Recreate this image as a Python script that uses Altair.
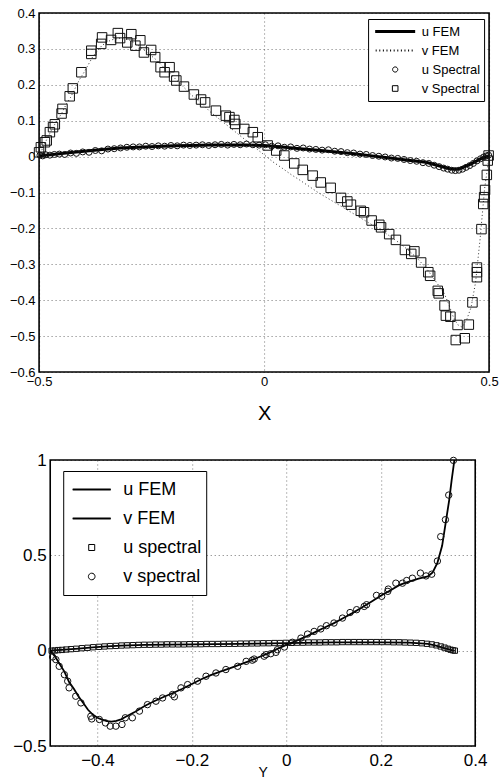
import altair as alt
import pandas as pd

# ---------------- top panel (versus X) ----------------
top_u_fem = [(-0.5, 0.002), (-0.47, 0.006), (-0.44, 0.010), (-0.40, 0.015), (-0.36, 0.020),
             (-0.32, 0.024), (-0.28, 0.026), (-0.24, 0.028), (-0.20, 0.030), (-0.16, 0.031),
             (-0.12, 0.032), (-0.08, 0.032), (-0.04, 0.032), (0.0, 0.031), (0.04, 0.027),
             (0.08, 0.022), (0.12, 0.018), (0.16, 0.013), (0.20, 0.008), (0.24, 0.002),
             (0.28, -0.004), (0.32, -0.010), (0.36, -0.016), (0.39, -0.026), (0.41, -0.033),
             (0.42, -0.035), (0.43, -0.035), (0.44, -0.031), (0.46, -0.020), (0.48, -0.007),
             (0.5, 0.003)]

top_v_fem = [(-0.5, 0.0), (-0.49, 0.03), (-0.48, 0.055), (-0.47, 0.08), (-0.46, 0.10),
             (-0.45, 0.12), (-0.44, 0.145), (-0.43, 0.165), (-0.42, 0.19), (-0.41, 0.215),
             (-0.40, 0.235), (-0.38, 0.28), (-0.36, 0.31), (-0.34, 0.325), (-0.32, 0.33),
             (-0.30, 0.325), (-0.28, 0.31), (-0.26, 0.29), (-0.24, 0.27), (-0.22, 0.245),
             (-0.20, 0.22), (-0.18, 0.195), (-0.16, 0.17), (-0.14, 0.15), (-0.12, 0.125),
             (-0.10, 0.105), (-0.08, 0.085), (-0.06, 0.065), (-0.04, 0.045), (-0.02, 0.025),
             (0.0, 0.005), (0.02, -0.015), (0.04, -0.032), (0.06, -0.05), (0.08, -0.066),
             (0.10, -0.083), (0.12, -0.10), (0.14, -0.115), (0.16, -0.13), (0.18, -0.145),
             (0.20, -0.16), (0.22, -0.175), (0.24, -0.19), (0.26, -0.205), (0.28, -0.222),
             (0.30, -0.24), (0.32, -0.26), (0.34, -0.283), (0.36, -0.31), (0.38, -0.345),
             (0.40, -0.38), (0.41, -0.41), (0.42, -0.445), (0.43, -0.468), (0.44, -0.475),
             (0.45, -0.455), (0.46, -0.42), (0.47, -0.35), (0.48, -0.23), (0.49, -0.09),
             (0.5, 0.0)]

top_u_spectral = [(-0.498, 0.004), (-0.492, 0.002), (-0.485, 0.005), (-0.476, 0.004), (-0.466, 0.006),
                  (-0.455, 0.007), (-0.443, 0.006), (-0.430, 0.010), (-0.417, 0.009), (-0.403, 0.013),
                  (-0.389, 0.012), (-0.375, 0.017), (-0.361, 0.016), (-0.347, 0.021), (-0.333, 0.022),
                  (-0.319, 0.024), (-0.305, 0.026), (-0.291, 0.027), (-0.277, 0.027), (-0.263, 0.029),
                  (-0.249, 0.028), (-0.235, 0.030), (-0.221, 0.029), (-0.207, 0.031), (-0.193, 0.030),
                  (-0.179, 0.032), (-0.165, 0.031), (-0.151, 0.032), (-0.137, 0.033), (-0.123, 0.031),
                  (-0.109, 0.033), (-0.095, 0.034), (-0.081, 0.032), (-0.067, 0.034), (-0.053, 0.033),
                  (-0.039, 0.035), (-0.025, 0.033), (-0.011, 0.032), (0.003, 0.033), (0.017, 0.029),
                  (0.031, 0.030), (0.045, 0.026), (0.059, 0.027), (0.073, 0.023), (0.087, 0.024),
                  (0.101, 0.021), (0.115, 0.020), (0.129, 0.018), (0.143, 0.019), (0.157, 0.015),
                  (0.171, 0.014), (0.185, 0.011), (0.199, 0.010), (0.213, 0.007), (0.227, 0.006),
                  (0.241, 0.003), (0.255, 0.001), (0.269, -0.001), (0.283, -0.004), (0.297, -0.005),
                  (0.311, -0.008), (0.325, -0.011), (0.339, -0.013), (0.353, -0.017), (0.366, -0.019),
                  (0.378, -0.024), (0.389, -0.028), (0.399, -0.032), (0.408, -0.035), (0.417, -0.038),
                  (0.425, -0.039), (0.433, -0.038), (0.441, -0.035), (0.449, -0.030), (0.457, -0.025),
                  (0.465, -0.019), (0.473, -0.012), (0.481, -0.006), (0.488, -0.001), (0.494, 0.002),
                  (0.499, 0.004)]

top_v_spectral = [(-0.500, 0.012), (-0.496, 0.026), (-0.487, 0.040), (-0.483, 0.045), (-0.476, 0.068),
                  (-0.469, 0.082), (-0.465, 0.090), (-0.450, 0.120), (-0.448, 0.133), (-0.432, 0.168),
                  (-0.425, 0.190), (-0.406, 0.235), (-0.384, 0.286), (-0.384, 0.295), (-0.362, 0.314),
                  (-0.360, 0.332), (-0.340, 0.325), (-0.325, 0.344), (-0.320, 0.330), (-0.304, 0.318),
                  (-0.295, 0.341), (-0.286, 0.309), (-0.275, 0.324), (-0.267, 0.290), (-0.251, 0.297),
                  (-0.242, 0.277), (-0.230, 0.249), (-0.221, 0.235), (-0.210, 0.249), (-0.200, 0.223),
                  (-0.195, 0.212), (-0.178, 0.195), (-0.156, 0.173), (-0.140, 0.159), (-0.131, 0.151),
                  (-0.107, 0.128), (-0.085, 0.114), (-0.077, 0.110), (-0.066, 0.102), (-0.064, 0.091),
                  (-0.044, 0.077), (-0.025, 0.068), (-0.014, 0.054), (0.008, 0.031), (0.027, 0.017),
                  (0.045, 0.003), (0.067, -0.019), (0.086, -0.037), (0.108, -0.053), (0.126, -0.072),
                  (0.148, -0.087), (0.171, -0.115), (0.185, -0.125), (0.193, -0.134), (0.215, -0.151),
                  (0.222, -0.155), (0.239, -0.178), (0.256, -0.190), (0.260, -0.197), (0.278, -0.216),
                  (0.293, -0.232), (0.313, -0.260), (0.334, -0.264), (0.327, -0.271), (0.349, -0.295),
                  (0.365, -0.322), (0.369, -0.332), (0.386, -0.374), (0.388, -0.381), (0.401, -0.415),
                  (0.404, -0.443), (0.414, -0.446), (0.430, -0.469), (0.426, -0.511), (0.446, -0.506),
                  (0.455, -0.468), (0.463, -0.406), (0.473, -0.309), (0.473, -0.322), (0.473, -0.336),
                  (0.483, -0.202), (0.487, -0.132), (0.489, -0.113), (0.491, -0.093), (0.495, -0.051),
                  (0.497, -0.011), (0.499, 0.003)]

top_series = ["u FEM", "v FEM", "u Spectral", "v Spectral"]
top_x_ticks = [-0.5, 0.0, 0.5]
top_y_ticks = [-0.6, -0.5, -0.4, -0.3, -0.2, -0.1, 0.0, 0.1, 0.2, 0.3, 0.4]

# ---------------- bottom panel (versus Y) ----------------
bot_u_fem = [(-0.5, 0.0), (-0.47, 0.005), (-0.44, 0.011), (-0.41, 0.017), (-0.38, 0.022),
             (-0.35, 0.026), (-0.30, 0.030), (-0.20, 0.033), (-0.10, 0.036), (0.0, 0.040),
             (0.10, 0.043), (0.20, 0.044), (0.26, 0.042), (0.30, 0.036), (0.317, 0.026),
             (0.335, 0.013), (0.352, 0.002), (0.357, 0.0)]

bot_v_fem = [(-0.5, 0.0), (-0.49, -0.03), (-0.48, -0.07), (-0.47, -0.11), (-0.46, -0.165),
             (-0.45, -0.20), (-0.44, -0.24), (-0.43, -0.275), (-0.42, -0.31), (-0.41, -0.335),
             (-0.40, -0.352), (-0.39, -0.362), (-0.38, -0.369), (-0.37, -0.372), (-0.36, -0.368),
             (-0.35, -0.36), (-0.34, -0.347), (-0.32, -0.32), (-0.30, -0.29), (-0.28, -0.265),
             (-0.26, -0.243), (-0.24, -0.222), (-0.22, -0.20), (-0.20, -0.175), (-0.18, -0.15),
             (-0.16, -0.128), (-0.14, -0.11), (-0.12, -0.093), (-0.10, -0.075), (-0.08, -0.056),
             (-0.06, -0.036), (-0.04, -0.016), (-0.02, 0.008), (0.0, 0.03), (0.02, 0.05),
             (0.04, 0.072), (0.06, 0.096), (0.08, 0.12), (0.10, 0.143), (0.12, 0.17),
             (0.14, 0.197), (0.16, 0.226), (0.18, 0.257), (0.20, 0.288), (0.22, 0.316),
             (0.24, 0.345), (0.26, 0.362), (0.28, 0.378), (0.30, 0.39), (0.31, 0.41),
             (0.32, 0.46), (0.33, 0.55), (0.34, 0.71), (0.345, 0.79), (0.35, 0.89), (0.356, 1.0)]

bot_u_spectral = [(-0.497, 0.000), (-0.490, 0.001), (-0.483, 0.003), (-0.475, 0.004), (-0.466, 0.006),
                  (-0.456, 0.008), (-0.445, 0.010), (-0.433, 0.013), (-0.421, 0.015), (-0.409, 0.018),
                  (-0.397, 0.020), (-0.385, 0.022), (-0.373, 0.024), (-0.361, 0.025), (-0.349, 0.027),
                  (-0.337, 0.028), (-0.325, 0.029), (-0.313, 0.030), (-0.301, 0.031), (-0.289, 0.031),
                  (-0.277, 0.032), (-0.265, 0.032), (-0.253, 0.033), (-0.241, 0.033), (-0.229, 0.033),
                  (-0.217, 0.033), (-0.205, 0.034), (-0.193, 0.034), (-0.181, 0.034), (-0.169, 0.035),
                  (-0.157, 0.035), (-0.145, 0.035), (-0.133, 0.036), (-0.121, 0.036), (-0.109, 0.036),
                  (-0.097, 0.037), (-0.085, 0.037), (-0.073, 0.038), (-0.061, 0.038), (-0.049, 0.039),
                  (-0.037, 0.039), (-0.025, 0.040), (-0.013, 0.040), (-0.001, 0.041), (0.011, 0.041),
                  (0.023, 0.042), (0.035, 0.042), (0.047, 0.043), (0.059, 0.043), (0.071, 0.043),
                  (0.083, 0.044), (0.095, 0.044), (0.107, 0.044), (0.119, 0.045), (0.131, 0.045),
                  (0.143, 0.045), (0.155, 0.045), (0.167, 0.045), (0.179, 0.045), (0.191, 0.045),
                  (0.203, 0.045), (0.215, 0.045), (0.227, 0.044), (0.239, 0.044), (0.251, 0.043),
                  (0.263, 0.042), (0.275, 0.041), (0.287, 0.039), (0.298, 0.036), (0.308, 0.033),
                  (0.318, 0.028), (0.327, 0.022), (0.335, 0.016), (0.342, 0.010), (0.348, 0.005),
                  (0.353, 0.002), (0.357, 0.000)]

bot_v_spectral = [(-0.495, -0.033), (-0.488, -0.047), (-0.481, -0.082), (-0.470, -0.126), (-0.463, -0.160),
                  (-0.460, -0.195), (-0.446, -0.239), (-0.435, -0.274), (-0.414, -0.344), (-0.412, -0.358),
                  (-0.396, -0.361), (-0.383, -0.379), (-0.373, -0.396), (-0.361, -0.396), (-0.348, -0.387),
                  (-0.341, -0.352), (-0.326, -0.352), (-0.311, -0.317), (-0.294, -0.283), (-0.276, -0.265),
                  (-0.262, -0.248), (-0.241, -0.230), (-0.237, -0.242), (-0.223, -0.195), (-0.209, -0.178),
                  (-0.188, -0.160), (-0.170, -0.134), (-0.149, -0.117), (-0.128, -0.099), (-0.103, -0.082),
                  (-0.085, -0.056), (-0.072, -0.050), (-0.068, -0.044), (-0.047, -0.029), (-0.043, -0.021),
                  (-0.033, -0.016), (-0.022, -0.009), (-0.019, 0.005), (-0.004, 0.019), (0.013, 0.044),
                  (0.031, 0.066), (0.045, 0.087), (0.059, 0.101), (0.073, 0.114), (0.085, 0.131),
                  (0.101, 0.145), (0.119, 0.171), (0.135, 0.200), (0.149, 0.215), (0.165, 0.232),
                  (0.170, 0.241), (0.191, 0.290), (0.202, 0.285), (0.215, 0.311), (0.216, 0.323),
                  (0.232, 0.354), (0.246, 0.354), (0.255, 0.368), (0.267, 0.380), (0.284, 0.407),
                  (0.296, 0.392), (0.308, 0.401), (0.320, 0.470), (0.327, 0.598), (0.337, 0.687),
                  (0.344, 0.816), (0.354, 0.998)]

bot_series = ["u FEM", "v FEM", "u spectral", "v spectral"]
bot_x_ticks = [-0.4, -0.2, 0.0, 0.2, 0.4]
bot_y_ticks = [-0.5, 0.0, 0.5, 1.0]

# ---------------- helpers / styles ----------------
FONT = "Liberation Sans"


def frame(pairs, series):
    return pd.DataFrame({"x": [p[0] for p in pairs], "y": [p[1] for p in pairs], "s": series})


EMPTY = pd.DataFrame({"x": pd.Series([], dtype=float), "y": pd.Series([], dtype=float),
                      "s": pd.Series([], dtype=str)})

# legend symbol paths (unit coordinates, scaled by the legend symbol size)
THICK_T = "M-1,-0.05H1M-1,0H1M-1,0.05H1"
DOT_T = "".join(f"M{v:.2f},-0.05V0.05" for v in [-0.95, -0.77, -0.59, -0.41, -0.23, -0.05, 0.13, 0.31, 0.49, 0.67, 0.85])
CIRC_T = "M0.13,0A0.13,0.13,0,1,1,-0.13,0A0.13,0.13,0,1,1,0.13,0Z"
SQ_T = "M-0.14,-0.14H0.14V0.14H-0.14Z"

LINE_B = "M-1,-0.026H1M-1,0H1M-1,0.026H1"
CIRC_B = "M0.175,0A0.175,0.175,0,1,1,-0.175,0A0.175,0.175,0,1,1,0.175,0Z"
SQ_B = "M-0.158,-0.158H0.158V0.158H-0.158Z"

grid_style = dict(grid=True, gridColor="#000", gridOpacity=0.55, gridDash=[1, 3], gridWidth=1,
                  domain=False, ticks=False, labelFont=FONT, labelColor="black",
                  labelFlush=False, labelOverlap=False, tickCount=30)

# ---------------- top chart ----------------
xs_t = alt.Scale(domain=[-0.5, 0.5], nice=False, zero=False)
ys_t = alt.Scale(domain=[-0.6, 0.4], nice=False, zero=False)
x_axis_t = alt.Axis(values=top_x_ticks, format=".1~f", title="X", titleFont=FONT, titleFontSize=20,
                    titleFontWeight="normal", titleColor="black", titlePadding=15,
                    labelFontSize=13, labelPadding=3, **grid_style)
y_axis_t = alt.Axis(values=top_y_ticks, format=".1~f", title=None, labelFontSize=13, labelPadding=4,
                    **grid_style)

legend_t = alt.Legend(title=None, orient="none", legendX=329, legendY=6,
                      strokeColor="black", fillColor="white", padding=3,
                      symbolSize=1600, symbolStrokeWidth=1, symbolStrokeColor="black",
                      symbolFillColor="transparent", symbolOffset=3.6, labelOffset=6,
                      labelFont=FONT, labelFontSize=13, labelColor="black",
                      clipHeight=19, rowPadding=0)

t_line_u = alt.Chart(frame(top_u_fem, "u FEM")).mark_line(color="black", strokeWidth=3).encode(
    x=alt.X("x:Q", scale=xs_t, axis=x_axis_t), y=alt.Y("y:Q", scale=ys_t, axis=y_axis_t))
t_line_v = alt.Chart(frame(top_v_fem, "v FEM")).mark_line(color="#333", strokeWidth=1, strokeDash=[1, 2.5]).encode(
    x="x:Q", y="y:Q")
t_pts_v = alt.Chart(frame(top_v_spectral, "v Spectral")).mark_point(
    shape="square", filled=False, color="#111", strokeWidth=1, size=90, opacity=1).encode(x="x:Q", y="y:Q")
t_pts_u = alt.Chart(frame(top_u_spectral, "u Spectral")).mark_point(
    shape="circle", filled=False, color="#111", strokeWidth=1, size=36, opacity=1).encode(x="x:Q", y="y:Q")
t_key = alt.Chart(EMPTY).mark_point(filled=False, color="black", opacity=1).encode(
    x="x:Q", y="y:Q",
    shape=alt.Shape("s:N", scale=alt.Scale(domain=top_series, range=[THICK_T, DOT_T, CIRC_T, SQ_T]),
                    legend=legend_t))

top = alt.layer(t_line_u, t_line_v, t_pts_v, t_pts_u, t_key).properties(width=450, height=359)

# ---------------- bottom chart ----------------
xs_b = alt.Scale(domain=[-0.5, 0.4001], nice=False, zero=False)
ys_b = alt.Scale(domain=[-0.5, 1.0], nice=False, zero=False)
x_axis_b = alt.Axis(values=bot_x_ticks, format=".1~f", title="Y", titleFont=FONT, titleFontSize=14,
                    titleFontWeight="normal", titleColor="black", titlePadding=-3,
                    labelFontSize=17, labelPadding=6, **grid_style)
y_axis_b = alt.Axis(values=bot_y_ticks, format=".1~f", title=None, labelFontSize=17, labelPadding=4,
                    **grid_style)

legend_b = alt.Legend(title=None, orient="none", legendX=13, legendY=11,
                      strokeColor="black", fillColor="white", padding=4,
                      symbolSize=1444, symbolStrokeWidth=1, symbolStrokeColor="black",
                      symbolFillColor="transparent", symbolOffset=5, labelOffset=12,
                      labelFont=FONT, labelFontSize=18, labelColor="black",
                      labelExpr="datum.label + '\u00a0\u00a0'",
                      clipHeight=29, rowPadding=0)

b_line_u = alt.Chart(frame(bot_u_fem, "u FEM")).mark_line(color="black", strokeWidth=1.8).encode(
    x=alt.X("x:Q", scale=xs_b, axis=x_axis_b), y=alt.Y("y:Q", scale=ys_b, axis=y_axis_b))
b_line_v = alt.Chart(frame(bot_v_fem, "v FEM")).mark_line(color="black", strokeWidth=1.8).encode(
    x="x:Q", y="y:Q")
b_pts_u = alt.Chart(frame(bot_u_spectral, "u spectral")).mark_point(
    shape="square", filled=False, color="#111", strokeWidth=1, size=28, opacity=1).encode(x="x:Q", y="y:Q")
b_pts_v = alt.Chart(frame(bot_v_spectral, "v spectral")).mark_point(
    shape="circle", filled=False, color="#111", strokeWidth=1, size=41, opacity=1).encode(x="x:Q", y="y:Q")
b_key = alt.Chart(EMPTY).mark_point(filled=False, color="black", opacity=1).encode(
    x="x:Q", y="y:Q",
    shape=alt.Shape("s:N", scale=alt.Scale(domain=bot_series, range=[LINE_B, LINE_B, SQ_B, CIRC_B]),
                    legend=legend_b))

bottom = alt.layer(b_line_u, b_line_v, b_pts_u, b_pts_v, b_key).properties(width=425, height=286)

chart = alt.vconcat(top, bottom, spacing=26, center=True).properties(
    padding={"left": 8, "top": 6, "right": 0, "bottom": 0},
    background="white",
).resolve_scale(x="independent", y="independent", shape="independent").resolve_legend(
    shape="independent"
).configure_view(stroke="black", strokeWidth=1.6)

chart.save("out.html", embed_options={"renderer": "svg", "actions": False})
